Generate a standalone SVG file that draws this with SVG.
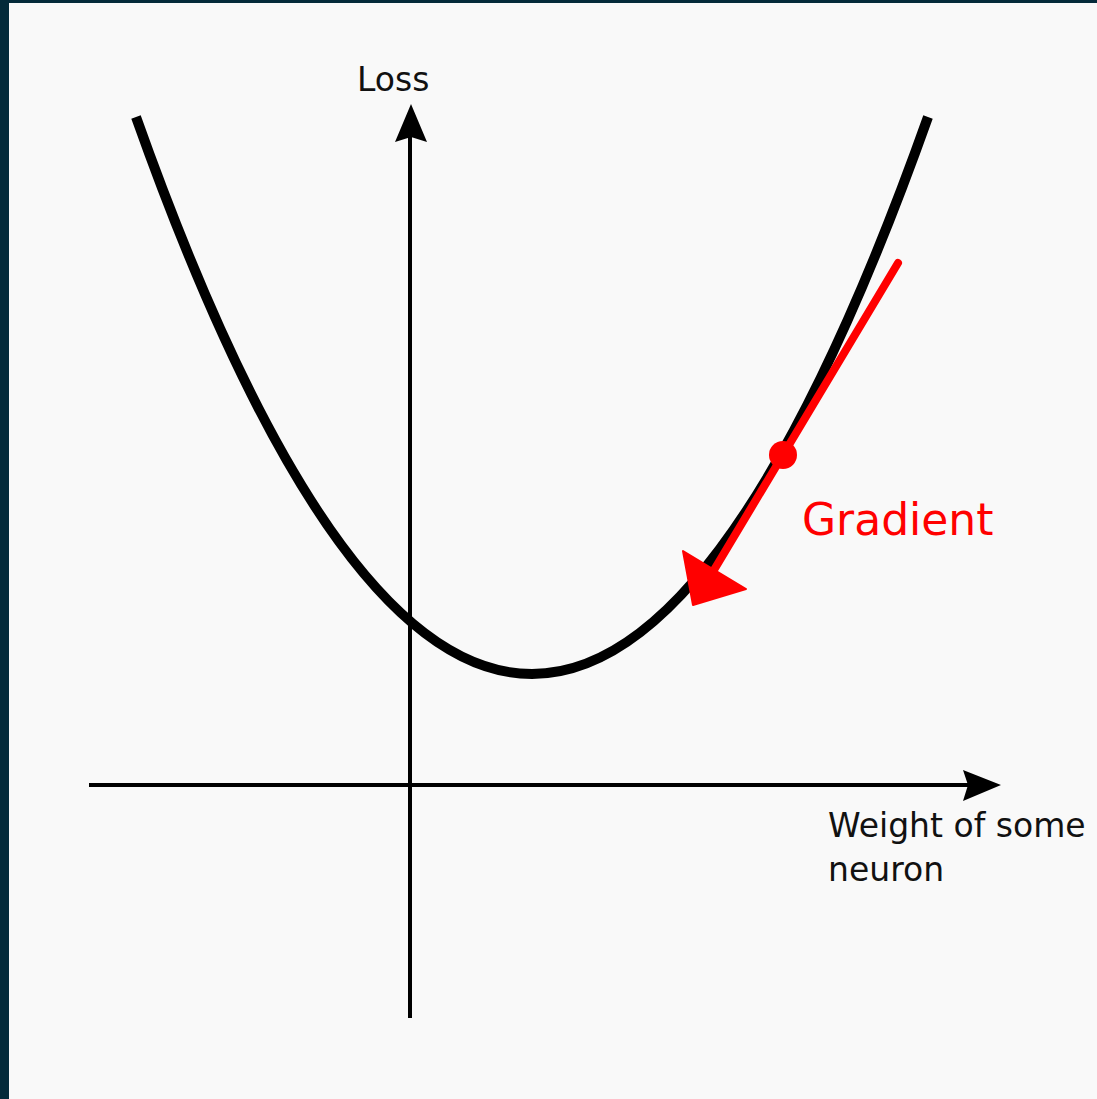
<svg xmlns="http://www.w3.org/2000/svg" width="1097" height="1099" viewBox="0 0 1097 1099">
  <style>
    .axis { stroke: #000; stroke-width: 4; fill: none; }
    .curve { stroke: #000; stroke-width: 10; fill: none; }
    .lbl { font-family: "DejaVu Sans", Verdana, sans-serif; font-size: 33px; fill: #111; }
    .grad { font-family: "DejaVu Sans", Verdana, sans-serif; font-size: 44px; fill: #ff0000; }
  </style>
  <rect x="0" y="0" width="1097" height="1099" fill="#042a3a"/>
  <rect x="9" y="3" width="1088" height="1096" fill="#f9f9f9"/>
  <g id="connectors">
    <g id="y-axis">
      <line class="axis" x1="410" y1="1018" x2="410" y2="136"/>
      <polygon points="411,104 427,142 411,137 395,142" fill="#000"/>
    </g>
    <g id="x-axis">
      <line class="axis" x1="89" y1="785" x2="970" y2="785"/>
      <polygon points="1001,785 963,770 968,785 963,801" fill="#000"/>
    </g>
  </g>
  <g id="loss-curve">
    <path class="curve" d="M136,117 Q532,1231 928,117"/>
  </g>
  <g id="gradient">
    <line x1="898" y1="263" x2="714" y2="570" stroke="#ff0000" stroke-width="8" stroke-linecap="round"/>
    <circle cx="783" cy="455" r="14" fill="#ff0000"/>
    <polygon points="683,551 746,589 693,605" fill="#ff0000" stroke="#ff0000" stroke-width="2" stroke-linejoin="round"/>
  </g>
  <g id="labels">
    <text class="lbl" x="357" y="91">Loss</text>
    <text class="lbl" x="828" y="837">Weight of some</text>
    <text class="lbl" x="828" y="881">neuron</text>
    <text class="grad" x="802" y="535">Gradient</text>
  </g>
</svg>
